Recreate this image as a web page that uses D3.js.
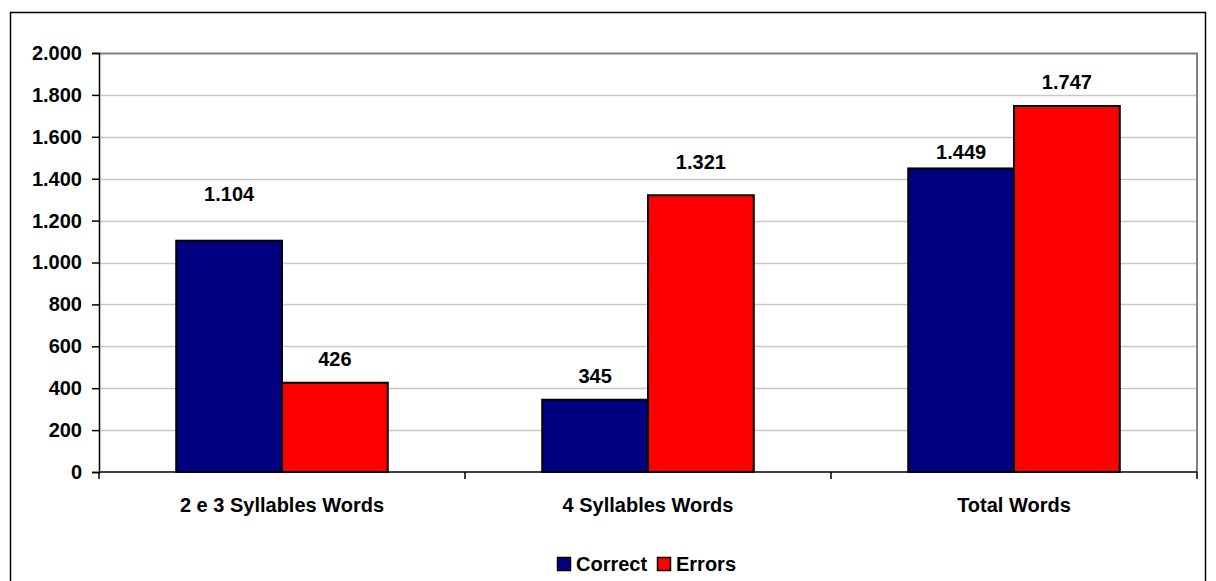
<!DOCTYPE html>
<html>
<head>
<meta charset="utf-8">
<script src="https://cdn.jsdelivr.net/npm/d3@7"></script>
<style>
  html, body { margin: 0; padding: 0; background: #fff; }
  svg { display: block; font-family: "Liberation Sans", Arial, sans-serif; font-weight: bold; }
</style>
</head>
<body>
<svg id="chart" width="1216" height="581"></svg>
<script>
// ---- data ----
const categories = ["2 e 3 Syllables Words", "4 Syllables Words", "Total Words"];
const seriesNames = ["Correct", "Errors"];
const correctValues = [1104, 345, 1449];
const errorValues = [426, 1321, 1747];
const yTicks = [0, 200, 400, 600, 800, 1000, 1200, 1400, 1600, 1800, 2000];

// ---- presentation ----
const colors = { Correct: "#000080", Errors: "#ff0000" };
// distance (px) between data label baseline and bar top, as placed in the original
const labelGap = [[40, 17], [17, 26], [9, 17]];
const fontSize = 20;

const svg = d3.select("#chart");
const plot = { left: 99, right: 1197, top: 53, bottom: 472 };

// outer chart border
svg.append("rect")
  .attr("x", 10.5).attr("y", 12.5)
  .attr("width", 1195).attr("height", 600)
  .attr("fill", "#fff").attr("stroke", "#000").attr("stroke-width", 1.5);

const x0 = d3.scaleBand().domain(categories).range([plot.left, plot.right]).padding(0);
const x1 = d3.scaleBand().domain(seriesNames).range([0, x0.bandwidth()])
  .paddingInner(0).paddingOuter(0.73);
const y = d3.scaleLinear().domain([0, 2000]).range([plot.bottom, plot.top]);

const loc = d3.formatLocale({ decimal: ",", thousands: ".", grouping: [3], currency: ["", ""] });
const fmt = loc.format(",d");

// gridlines
svg.append("g").selectAll("line")
  .data(yTicks.filter(t => t > 0 && t < 2000))
  .join("line")
  .attr("x1", plot.left).attr("x2", plot.right)
  .attr("y1", d => Math.round(y(d)) + 0.5).attr("y2", d => Math.round(y(d)) + 0.5)
  .attr("stroke", "#c8c8c8").attr("stroke-width", 1.3);

// plot area border (top & right)
svg.append("path")
  .attr("d", `M${plot.left},${plot.top + 0.5}H${plot.right}V${plot.bottom}`)
  .attr("fill", "none").attr("stroke", "#808080").attr("stroke-width", 2);

// bars
const rows = categories.map((c, i) => ({ cat: c, i, vals: [
  { s: "Correct", v: correctValues[i], j: 0 },
  { s: "Errors", v: errorValues[i], j: 1 }
]}));

const groups = svg.append("g").selectAll("g")
  .data(rows).join("g")
  .attr("transform", d => `translate(${x0(d.cat)},0)`);

groups.selectAll("rect")
  .data(d => d.vals).join("rect")
  .attr("x", d => x1(d.s))
  .attr("y", d => y(d.v))
  .attr("width", x1.bandwidth())
  .attr("height", d => y(0) - y(d.v))
  .attr("fill", d => colors[d.s])
  .attr("stroke", "#000").attr("stroke-width", 2);

groups.selectAll("text")
  .data(d => d.vals.map(v => ({ ...v, i: d.i }))).join("text")
  .attr("x", d => x1(d.s) + x1.bandwidth() / 2)
  .attr("y", d => y(d.v) - labelGap[d.i][d.j])
  .attr("text-anchor", "middle")
  .attr("font-size", fontSize)
  .text(d => fmt(d.v));

// y axis
const yAxis = d3.axisLeft(y).tickValues(yTicks).tickFormat(fmt).tickSize(7).tickPadding(10);
const gy = svg.append("g").attr("transform", `translate(${plot.left},0)`).call(yAxis);
gy.select(".domain").attr("stroke", "#000").attr("stroke-width", 1.5);
gy.selectAll(".tick line").attr("stroke", "#000").attr("stroke-width", 1.5);
gy.selectAll(".tick text").attr("font-size", fontSize).attr("font-family", "Liberation Sans, Arial, sans-serif")
  .attr("font-weight", "bold").attr("fill", "#000");

// x axis
const gx = svg.append("g").attr("transform", `translate(0,${plot.bottom})`);
gx.append("line").attr("x1", plot.left).attr("x2", plot.right).attr("y1", 0).attr("y2", 0)
  .attr("stroke", "#000").attr("stroke-width", 1.5);
const bounds = categories.map(c => x0(c)).concat([x0(categories[categories.length - 1]) + x0.bandwidth()]);
gx.selectAll("line.tk").data(bounds).join("line").attr("class", "tk")
  .attr("x1", d => d).attr("x2", d => d).attr("y1", 0).attr("y2", 7)
  .attr("stroke", "#000").attr("stroke-width", 1.5);
gx.selectAll("text").data(categories).join("text")
  .attr("x", d => x0(d) + x0.bandwidth() / 2)
  .attr("y", 40)
  .attr("text-anchor", "middle")
  .attr("font-size", fontSize)
  .text(d => d);

// legend
const legend = svg.append("g").attr("transform", "translate(557,571)");
const legendItems = [{ s: "Correct", x: 0 }, { s: "Errors", x: 100 }];
const li = legend.selectAll("g").data(legendItems).join("g")
  .attr("transform", d => `translate(${d.x},0)`);
li.append("rect").attr("x", 0.5).attr("y", -13.5).attr("width", 13).attr("height", 13)
  .attr("fill", d => colors[d.s]).attr("stroke", "#000").attr("stroke-width", 1.5);
li.append("text").attr("x", 19).attr("y", 0).attr("font-size", fontSize).text(d => d.s);
</script>
</body>
</html>
